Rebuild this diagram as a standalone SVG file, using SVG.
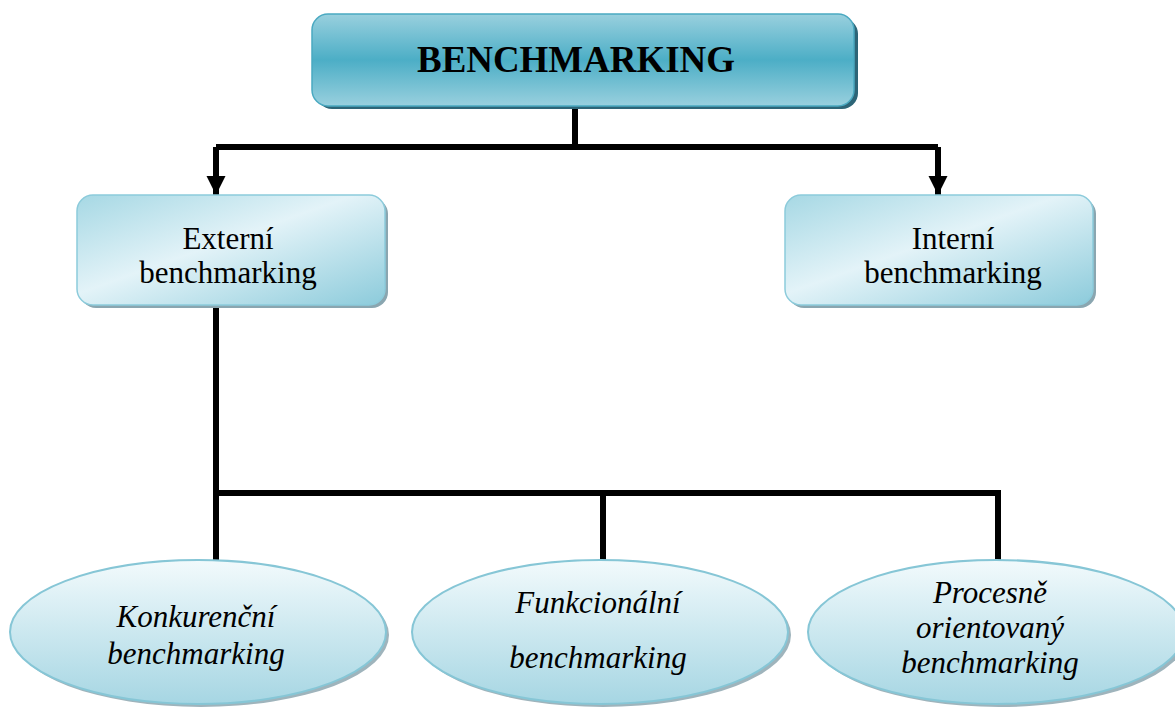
<svg xmlns="http://www.w3.org/2000/svg" width="1175" height="709" viewBox="0 0 1175 709">
<style>
.line{fill:none;stroke:#000;stroke-width:6}
.t{font-family:"Liberation Serif","DejaVu Serif",serif;fill:#000;text-anchor:middle}
.title{font-size:38px;font-weight:bold}
.sub{font-size:31px}
.it{font-size:31px;font-style:italic}
.box{fill:url(#gBox);stroke:#8ccbdb;stroke-width:1.5}
.boxsh{fill:#8aa6b0}
.ell{fill:url(#gEll);stroke:#86c6d6;stroke-width:2}
.ellsh{fill:#9fb4bc}
</style>
<defs>
<linearGradient id="gTop" x1="0" y1="0" x2="0" y2="1">
<stop offset="0" stop-color="#99d0de"/>
<stop offset="0.5" stop-color="#4caec6"/>
<stop offset="1" stop-color="#99d0de"/>
</linearGradient>
<linearGradient id="gBox" x1="0" y1="0" x2="1" y2="1">
<stop offset="0" stop-color="#a6d8e4"/>
<stop offset="0.45" stop-color="#e3f3f8"/>
<stop offset="1" stop-color="#8ccbdb"/>
</linearGradient>
<linearGradient id="gEll" x1="0" y1="0" x2="0" y2="1">
<stop offset="0" stop-color="#f2fafc"/>
<stop offset="1" stop-color="#a6d6e3"/>
</linearGradient>
<marker id="arr" viewBox="0 0 10 10" refX="10" refY="5" markerWidth="3.2" markerHeight="3.2" markerUnits="strokeWidth" orient="auto">
<path d="M0,0 L10,5 L0,10 Z" fill="#000"/>
</marker>
</defs>

<g id="connectors">
<path class="line" d="M575,106 V147"/>
<path class="line" d="M216,147 H938"/>
<path class="line" d="M216,147 V195" marker-end="url(#arr)"/>
<path class="line" d="M938,147 V195" marker-end="url(#arr)"/>
<path class="line" d="M216,305 V562"/>
<path class="line" d="M216,493 H998 V562"/>
<path class="line" d="M603,493 V562"/>
</g>

<g id="node-benchmarking">
<rect x="316" y="18" width="542" height="91" rx="16" fill="#2d6577"/>
<rect x="312" y="14" width="542" height="92" rx="16" fill="url(#gTop)" stroke="#4aa9c1" stroke-width="1.5"/>
<text class="t title" x="576" y="72" textLength="318" lengthAdjust="spacingAndGlyphs">BENCHMARKING</text>
</g>

<g id="node-externi">
<rect x="80" y="198" width="308" height="110" rx="16" class="boxsh"/>
<rect x="77" y="195" width="308" height="110" rx="16" class="box"/>
<text class="t sub" x="228" y="249">Externí</text>
<text class="t sub" x="228" y="283">benchmarking</text>
</g>

<g id="node-interni">
<rect x="788" y="198" width="308" height="110" rx="16" class="boxsh"/>
<rect x="785" y="195" width="308" height="110" rx="16" class="box"/>
<text class="t sub" x="953" y="249">Interní</text>
<text class="t sub" x="953" y="283">benchmarking</text>
</g>

<g id="node-konkurencni">
<ellipse cx="201" cy="635" rx="188" ry="72" class="ellsh"/>
<ellipse cx="198" cy="632" rx="188" ry="72" class="ell"/>
<text class="t it" x="196" y="627">Konkurenční</text>
<text class="t it" x="196" y="664">benchmarking</text>
</g>

<g id="node-funkcionalni">
<ellipse cx="603" cy="635" rx="188" ry="72" class="ellsh"/>
<ellipse cx="600" cy="632" rx="188" ry="72" class="ell"/>
<text class="t it" x="598" y="613">Funkcionální</text>
<text class="t it" x="598" y="668">benchmarking</text>
</g>

<g id="node-procesne">
<ellipse cx="999" cy="635" rx="188" ry="72" class="ellsh"/>
<ellipse cx="996" cy="632" rx="188" ry="72" class="ell"/>
<text class="t it" x="990" y="603">Procesně</text>
<text class="t it" x="990" y="638">orientovaný</text>
<text class="t it" x="990" y="673">benchmarking</text>
</g>
</svg>
